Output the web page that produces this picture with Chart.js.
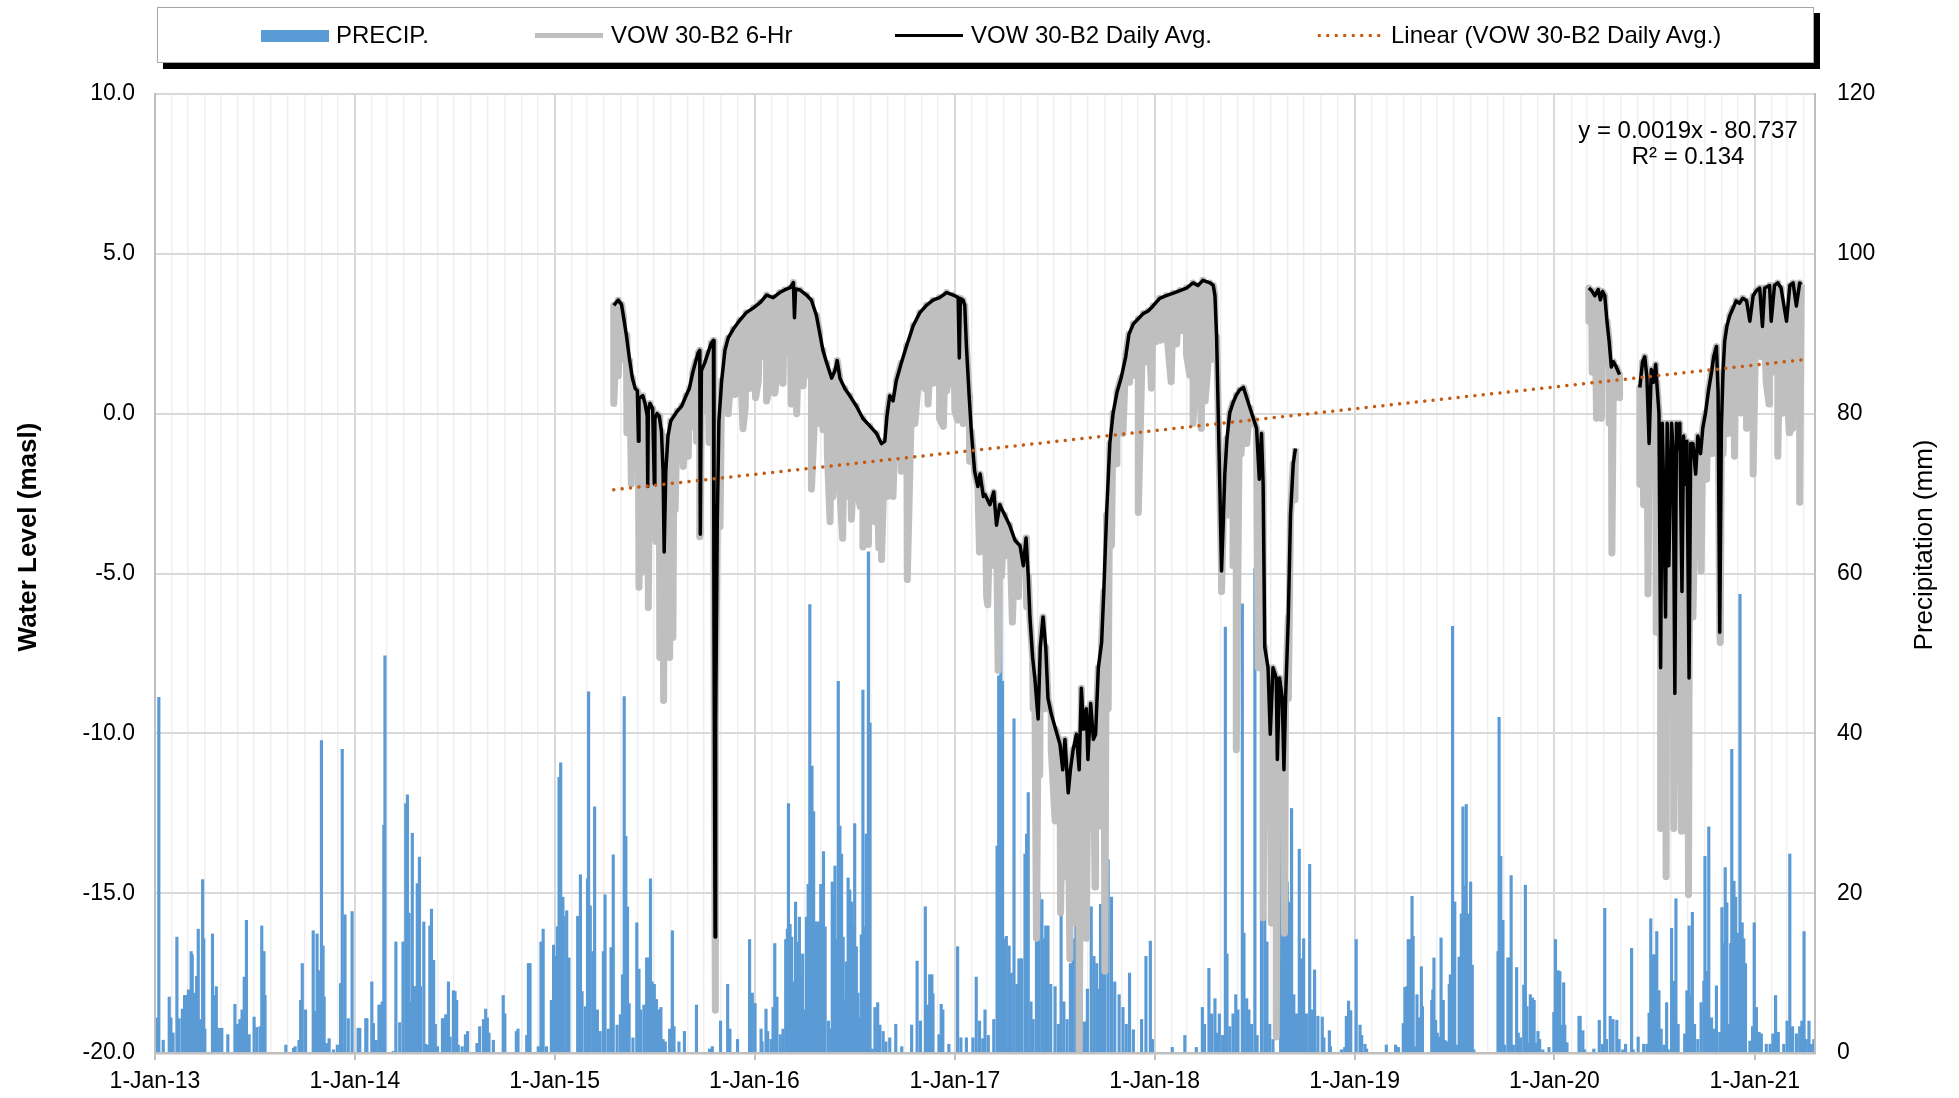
<!DOCTYPE html>
<html><head><meta charset="utf-8">
<script src="https://cdn.jsdelivr.net/npm/chart.js@4.4.1/dist/chart.umd.min.js"></script>
<style>
html,body{margin:0;padding:0;background:#fff;overflow:hidden}
#wrap{position:relative;width:1959px;height:1098px;font-family:'Liberation Sans',Arial,sans-serif}
canvas{position:absolute;left:0;top:0}
#lgbox{position:absolute;left:157px;top:7px;width:1655px;height:54px;border:1.5px solid #a6a6a6;background:#fff;box-shadow:6px 6px 0 #000}
.lt{position:absolute;top:23px;font-size:24px;line-height:24px;white-space:nowrap;color:#000}
.sw{position:absolute}
</style></head>
<body><div id="wrap">
<canvas id="c" width="1959" height="1098"></canvas>
<div id="lgbox"></div>
<div class="sw" style="left:261px;top:30px;width:68px;height:12px;background:#5b9bd5"></div>
<div class="lt" style="left:336px">PRECIP.</div>
<div class="sw" style="left:535px;top:33px;width:68px;height:5px;background:#bfbfbf"></div>
<div class="lt" style="left:611px">VOW 30-B2 6-Hr</div>
<div class="sw" style="left:895px;top:34px;width:68px;height:3px;background:#000"></div>
<div class="lt" style="left:971px">VOW 30-B2 Daily Avg.</div>
<div class="sw" style="left:1315px;top:33px;width:68px;height:5px;background:radial-gradient(circle,#c55a11 1.5px,transparent 2px) 0 0/8.5px 5px repeat-x"></div>
<div class="lt" style="left:1391px">Linear (VOW 30-B2 Daily Avg.)</div>
</div>
<script>
// x values: days since 1-Jan-2013
const yearTickLabels = ['1-Jan-13','1-Jan-14','1-Jan-15','1-Jan-16','1-Jan-17','1-Jan-18','1-Jan-19','1-Jan-20','1-Jan-21'];
const xMaxDay = 3032;

// PRECIP. (mm) [day, mm]
const precip = [
[3,4.4],[7,44.5],[15,1.6],[26,7.0],[29,4.4],[33,2.5],[40,14.5],[44,4.3],[50,5.5],[54,7.2],[56,7.2],[61,7.9],[66,12.7],[68,12.3],[72,7.5],[76,9.6],[79,15.5],[83,4.2],[87,21.7],[89,14.3],[91,3.0],[105,14.9],[108,7.2],[112,8.3],[117,3.1],[122,3.1],[133,2.3],[146,6.1],[151,3.6],[155,4.2],[159,5.4],[163,9.5],[167,16.6],[172,2.3],[181,4.5],[186,3.2],[192,3.3],[195,15.9],[199,12.7],[201,7.2],[239,1.0],[253,0.6],[256,0.8],[263,1.6],[266,6.6],[269,11.2],[275,5.4],[289,15.3],[293,5.2],[296,14.9],[300,10.3],[304,39.1],[307,13.4],[309,7.0],[313,1.2],[318,1.8],[326,0.4],[333,1.0],[339,8.7],[342,38.0],[347,17.3],[353,4.3],[360,17.7],
[371,3.1],[374,3.1],[385,4.3],[387,4.3],[396,8.9],[399,3.7],[404,1.6],[409,6.0],[412,6.0],[415,6.4],[418,28.5],[420,49.7],[435,0.2],[440,13.9],[447,3.8],[453,13.9],[458,31.2],[461,32.3],[464,17.5],[466,6.4],[470,27.5],[473,8.3],[476,8.3],[479,21.2],[483,24.5],[485,8.3],[491,16.4],[494,1.1],[498,1.0],[502,15.9],[505,18.0],[509,11.6],[512,3.6],[516,0.8],[525,4.3],[528,4.3],[531,4.8],[536,8.9],[539,2.0],[545,7.8],[548,7.7],[551,6.6],[554,1.0],[561,0.8],[567,2.3],[571,2.7],[588,1.2],[593,3.3],[600,4.2],[604,5.5],[607,4.4],[610,2.5],[618,1.6],[636,7.2],[639,4.9],[660,2.7],[663,3.0],[679,2.2],[682,11.2],[685,11.2],[700,0.8],[705,13.9],[709,15.5],[715,0.8],[724,6.6],[728,13.5],[732,12.1],[735,15.8],[738,34.5],[741,36.3],[745,19.5],[747,17.1],[752,17.8],[756,11.9],[772,17.1],[777,22.3],[780,7.7],[786,5.8],[790,21.8],[792,45.2],[795,18.4],[800,12.7],[803,30.8],[808,5.4],[813,2.7],[819,12.7],[822,19.8],[828,3.0],[833,13.2],[837,24.8],
[844,3.5],[850,4.8],[854,9.8],[857,44.6],[860,27.1],[863,18.3],[866,6.2],[873,1.9],[880,16.3],[884,10.5],[887,5.4],[893,6.0],[898,11.9],[901,11.9],[905,21.8],[908,8.9],[912,8.6],[916,6.7],[921,5.4],[924,5.7],[928,1.7],[932,1.4],[940,3.0],[945,15.3],[948,3.3],[957,1.4],[967,2.7],[989,6.0],[1013,0.5],[1018,0.8],[1033,4.0],[1046,8.6],[1050,3.0],[1064,1.7],[1086,14.2],[1091,7.5],[1096,6.2],[1107,3.0],[1109,1.4],[1116,5.5],[1119,2.7],[1125,1.7],[1129,5.7],[1132,13.7],[1136,7.0],[1142,2.3],[1147,3.0],[1152,14.2],[1155,15.5],[1157,31.2],[1160,16.1],[1163,14.5],[1166,8.6],[1168,8.9],[1170,18.9],[1173,13.9],[1177,17.0],[1180,9.8],[1183,12.4],[1186,5.4],[1190,17.0],[1193,21.1],[1196,56.1],[1200,35.9],[1203,30.2],[1205,16.4],[1208,16.4],[1212,16.4],[1216,21.1],[1219,19.6],[1221,25.2],[1224,15.8],[1230,4.0],[1233,3.0],[1237,21.4],[1239,19.3],[1242,23.4],[1245,14.2],[1248,46.5],[1251,28.4],[1254,24.9],[1257,14.5],[1260,6.7],[1263,11.4],[1266,21.9],[1269,20.4],[1272,18.9],[1275,16.1],[1278,28.7],[1281,13.3],[1284,7.5],[1287,4.4],[1290,14.8],[1293,45.4],[1296,15.8],[1299,27.4],[1303,62.7],[1306,41.3],[1310,0.5],[1315,5.7],[1320,6.3],[1324,3.5],[1330,2.7],[1335,1.4],[1342,1.9],[1353,3.6],[1364,0.8],[1382,3.5],[1392,11.5],[1398,4.0],[1407,18.3],[1411,6.0],[1415,9.8],[1419,9.8],[1421,7.4],[1432,2.3],[1436,6.1],[1439,5.4],[1450,1.1],[1466,13.3],[1472,1.9],[1482,1.9],[1494,1.9],[1500,9.5],[1506,4.0],[1512,1.8],
[1516,5.4],[1522,2.2],[1532,4.2],[1538,25.9],[1541,47.2],[1545,59.7],[1548,46.5],[1551,14.3],[1555,14.6],[1560,13.4],[1564,10.0],[1569,41.8],[1574,8.6],[1578,11.8],[1583,11.8],[1589,24.9],[1592,27.4],[1595,32.6],[1600,6.4],[1604,4.2],[1610,14.0],[1615,20.1],[1620,19.2],[1624,14.3],[1627,15.9],[1631,15.9],[1636,8.6],[1644,8.3],[1650,3.6],[1655,18.0],[1660,6.4],[1666,4.2],[1672,11.2],[1677,14.3],[1682,27.8],[1686,31.3],[1692,11.2],[1698,3.9],[1703,8.0],[1710,18.3],[1715,12.1],[1720,11.2],[1724,8.0],[1727,18.6],[1731,11.5],[1735,10.0],[1741,24.2],[1747,19.5],[1753,8.9],[1761,7.3],[1768,5.7],[1774,3.6],[1780,10.0],[1787,2.9],[1802,4.2],[1810,12.1],[1818,14.0],[1822,1.7],[1858,0.7],[1881,2.2],[1902,0.7],[1913,5.7],[1917,3.6],[1925,10.6],[1930,4.9],[1936,6.8],[1940,2.5],[1944,4.9],[1950,2.2],[1955,53.3],[1958,12.4],[1963,3.3],[1969,4.9],[1974,7.3],[1978,5.4],[1986,56.2],[1989,15.0],[1994,6.8],[1998,5.4],[2003,3.6],[2009,60.6],[2013,2.2],[2021,17.0],[2027,17.7],[2031,13.9],[2036,3.6],[2042,1.7],[2056,32.3],[2059,15.0],[2063,23.3],[2068,21.4],[2071,18.9],[2076,30.6],[2080,7.3],[2085,4.9],[2090,25.5],[2094,11.8],[2098,14.3],[2103,4.9],[2109,23.6],[2114,5.4],
[2118,10.4],[2124,4.6],[2132,4.5],[2135,1.9],[2145,2.8],[2147,0.8],[2167,0.4],[2173,0.7],[2176,4.6],[2180,6.5],[2184,5.3],[2194,14.2],[2201,3.5],[2204,2.2],[2210,1.1],[2213,0.5],[2249,1.0],[2266,1.0],[2271,0.7],[2280,3.7],[2283,8.2],[2286,8.3],[2289,14.2],[2292,14.2],[2296,19.6],[2298,14.6],[2301,0.8],[2305,7.3],[2308,4.4],[2313,10.8],[2315,5.8],[2332,6.6],[2334,7.9],[2336,11.9],[2339,4.1],[2342,2.5],[2345,2.0],[2349,14.4],[2353,6.6],[2356,1.6],[2360,1.4],[2364,8.6],[2366,9.8],[2370,53.4],[2374,18.9],[2377,1.0],[2382,12.0],[2386,17.4],[2389,30.8],[2392,20.9],[2395,31.1],[2399,17.4],[2403,21.4],[2406,11.0],[2409,0.4],[2453,12.7],[2455,42.0],[2458,24.6],[2462,16.6],[2465,1.0],[2471,11.9],[2474,11.9],[2477,22.2],[2481,1.0],[2487,10.7],[2490,2.5],[2494,1.9],[2500,8.5],[2503,21.0],[2506,5.8],[2510,1.2],[2512,7.3],[2516,6.9],[2519,6.6],[2522,1.2],[2526,2.7],[2529,1.7],[2535,0.4],[2546,0.7],[2555,5.1],[2558,14.2],[2563,10.3],[2566,10.2],[2569,3.5],[2573,8.8],[2575,3.5],[2579,1.3],[2601,4.6],[2603,4.6],[2608,2.8],[2611,0.4],[2628,0.5],[2638,4.1],
[2644,1.1],[2648,18.1],[2651,1.7],[2658,4.6],[2663,4.2],[2670,4.1],[2674,1.7],[2681,0.4],[2686,1.1],[2697,13.1],[2700,0.4],[2709,2.0],[2719,1.1],[2725,1.1],[2729,5.0],[2732,16.8],[2736,12.3],[2740,12.3],[2743,15.2],[2747,7.8],[2751,3.0],[2756,1.0],[2761,6.3],[2764,0.4],[2770,15.6],[2774,9.0],[2778,19.3],[2782,3.6],[2794,2.4],[2798,7.8],[2802,15.9],[2805,7.2],[2808,17.6],[2812,3.6],[2818,1.7],[2824,6.3],[2829,9.0],[2831,24.6],[2835,10.2],[2838,28.3],[2843,4.4],[2847,3.0],[2852,8.4],[2858,2.6],[2862,18.2],[2865,13.7],[2868,23.2],[2871,18.8],[2875,3.6],[2878,13.7],[2880,38.0],[2884,21.5],[2887,19.5],[2891,15.0],[2895,57.4],[2899,16.3],[2902,14.3],[2905,11.2],[2913,1.5],[2918,3.3],[2921,16.3],[2925,5.7],[2930,2.6],[2934,2.4],[2943,1.1],[2950,1.1],[2955,2.4],[2960,7.2],[2965,2.6],[2975,1.1],[2981,4.0],[2986,24.9],[2991,3.3],[2998,2.4],[3004,3.3],[3008,4.0],[3012,15.2],[3016,1.7],[3021,4.0],[3025,1.1],[3030,1.7]
];

// VOW 30-B2 Daily Avg. (masl) [day, level]; null = no record
const dailyAvg = [
[838,3.39],[846,3.55],[852,3.42],[856,3.0],[861,2.45],[867,1.66],[872,1.11],[877,0.79],[881,0.72],[883,-0.86],[884,0.48],[891,0.56],[895,0.32],[899,-0.07],[900,-2.28],[901,0.1],[904,0.32],[909,0.16],[912,-2.2],[913,-0.15],[917,0.0],[921,-0.07],[925,-0.55],[928,-1.80],[930,-4.33],[933,-1.8],[937,-0.70],[942,-0.23],[948,-0.07],[954,0.08],[962,0.24],[970,0.56],[976,0.79],[982,1.27],[988,1.66],[992,1.90],[995,1.98],[996,-3.77],[998,1.35],[1004,1.58],[1010,1.90],[1016,2.21],[1020,2.29],[1021,-6.53],[1023,-16.37],[1024,-9.68],[1027,-3.38],[1030,-0.23],[1035,1.03],[1041,1.98],[1047,2.37],[1056,2.64],[1068,2.92],[1080,3.16],[1093,3.31],[1105,3.47],[1117,3.71],[1129,3.63],[1141,3.79],[1150,3.87],[1160,3.94],[1166,4.10],[1168,3.0],[1170,3.9],[1178,3.87],[1190,3.71],[1199,3.55],[1208,3.08],[1214,2.53],[1220,1.98],[1227,1.58],[1236,1.11],[1242,1.35],[1246,1.66],[1251,1.11],[1260,0.79],[1269,0.56],[1281,0.24],[1293,-0.15],[1306,-0.39],[1318,-0.62],[1327,-0.94],[1333,-0.86],[1337,-0.07],[1342,0.56],[1348,0.40],[1354,1.03],[1363,1.58],[1373,2.13],[1385,2.76],[1397,3.16],[1409,3.39],[1421,3.55],[1433,3.63],[1446,3.79],[1458,3.71],[1467,3.63],[1469,1.74],[1471,3.6],[1476,3.55],[1479,3.39],[1482,2.13],[1487,0.56],[1491,-0.55],[1497,-1.80],[1503,-2.28],[1507,-1.89],[1513,-2.59],[1516,-2.53],[1525,-2.85],[1532,-2.45],[1537,-3.49],[1543,-2.85],[1552,-3.17],[1561,-3.49],[1571,-3.97],[1580,-4.13],[1586,-4.76],[1591,-3.89],[1595,-5.08],[1598,-6.36],[1603,-7.63],[1607,-8.27],[1613,-9.55],[1617,-7.31],[1622,-6.36],[1627,-7.31],[1631,-8.91],[1637,-9.39],[1645,-9.87],[1653,-10.35],[1658,-11.14],[1662,-10.19],[1668,-11.86],[1672,-11.14],[1677,-10.51],[1683,-10.03],[1688,-11.14],[1692,-8.59],[1696,-9.87],[1701,-9.23],[1704,-10.82],[1709,-9.07],[1714,-10.19],[1718,-10.03],[1723,-7.95],[1729,-7.16],[1733,-5.56],[1738,-3.17],[1744,-0.93],[1750,0.02],[1757,0.66],[1765,1.14],[1773,1.78],[1779,2.49],[1787,2.81],[1796,2.97],[1805,3.13],[1814,3.21],[1823,3.37],[1835,3.61],[1847,3.69],[1860,3.77],[1872,3.85],[1884,3.93],[1896,4.09],[1905,4.01],[1914,4.17],[1927,4.09],[1933,4.01],[1936,3.69],[1939,2.42],[1942,0.02],[1945,-2.37],[1948,-4.92],[1951,-3.49],[1954,-1.89],[1958,-0.78],[1963,0.02],[1969,0.34],[1975,0.58],[1981,0.74],[1988,0.82],[1994,0.50],[2000,0.18],[2006,-0.14],[2012,-0.46],[2017,-2.05],[2021,-0.62],[2024,-2.21],[2027,-7.31],[2033,-7.95],[2037,-10.03],[2042,-7.95],[2048,-8.27],[2050,-10.82],[2054,-8.27],[2059,-8.91],[2062,-11.14],[2065,-8.91],[2070,-6.36],[2074,-3.17],[2079,-1.57],[2083,-1.09],
[2090,null],
[2619,3.93],[2624,3.85],[2630,3.69],[2636,3.88],[2640,3.56],[2644,3.82],[2648,3.69],[2652,2.89],[2656,2.26],[2660,1.46],[2664,1.62],[2669,1.46],[2675,1.22],
[2690,null],
[2712,0.82],[2717,1.62],[2721,1.78],[2725,1.14],[2729,-0.93],[2733,1.38],[2737,0.98],[2741,1.54],[2743,0.98],[2747,0.02],[2750,-7.95],[2753,-0.30],[2756,-2.69],[2759,-6.36],[2762,-0.30],[2765,-4.76],[2770,-0.30],[2773,-1.25],[2776,-8.75],[2779,-0.30],[2782,-1.09],[2785,-0.30],[2789,-5.56],[2792,-0.70],[2795,-2.21],[2798,-0.86],[2802,-8.27],[2805,-0.93],[2809,-0.93],[2814,-1.89],[2818,-0.70],[2823,-1.25],[2827,-0.46],[2832,0.02],[2837,0.66],[2843,1.30],[2847,1.78],[2852,2.10],[2855,0.66],[2858,-6.84],[2861,-0.46],[2864,1.30],[2867,2.26],[2871,2.73],[2876,3.05],[2882,3.29],[2888,3.53],[2894,3.45],[2900,3.61],[2907,3.53],[2913,2.89],[2919,3.69],[2925,3.85],[2931,3.93],[2936,2.73],[2940,3.93],[2949,4.01],[2952,2.89],[2958,4.01],[2964,4.09],[2970,3.93],[2980,2.89],[2986,4.01],[2992,4.09],[2998,3.37],[3004,4.09],[3007,4.04]
];

// VOW 30-B2 6-Hr readings below the daily average (drawdown spikes) [day, level]
const sixHrLows = [
[838,0.32],[846,1.19],[856,1.7],[862,-0.6],[870,-2.2],[876,-1.4],[884,-5.43],[891,-4.95],[895,-3.0],[901,-6.06],[908,-2.6],[915,-4.0],[922,-7.63],[929,-8.97],[935,-5.2],[940,-7.63],[946,-7.0],[950,-3.0],[956,-1.33],[960,-0.6],[965,-1.65],[974,-1.33],[980,-0.4],[989,-0.86],[995,-3.85],[1000,0.6],[1007,0.08],[1012,-0.9],[1016,0.87],[1023,-18.66],[1032,-3.54],[1040,0.9],[1047,0.0],[1052,1.2],[1056,0.95],[1060,0.6],[1065,1.58],[1070,1.4],[1074,-0.47],[1078,0.2],[1086,0.79],[1090,1.6],[1097,0.5],[1102,1.03],[1110,1.8],[1117,0.40],[1124,0.9],[1132,0.64],[1138,1.5],[1147,0.95],[1155,1.9],[1162,0.3],[1172,0.0],[1178,1.4],[1184,0.87],[1190,1.2],[1199,-2.36],[1206,0.4],[1214,-0.31],[1220,-0.5],[1228,-1.2],[1233,-3.38],[1238,-2.6],[1242,-1.96],[1251,-2.44],[1256,-3.9],[1262,-2.59],[1268,-1.8],[1272,-3.30],[1281,-2.28],[1288,-2.9],[1293,-4.17],[1298,-3.6],[1303,-4.09],[1310,-2.2],[1315,-3.38],[1322,-4.2],[1327,-4.56],[1336,-2.59],[1348,-2.59],[1363,-1.80],[1374,-5.19],[1388,-0.31],[1395,1.2],[1406,0.79],[1412,0.3],[1421,0.95],[1426,1.5],[1433,-0.15],[1440,-0.4],[1446,0.72],[1452,1.4],[1461,0.08],[1466,-0.2],[1472,0.9],[1476,-0.31],[1488,-1.49],[1506,-4.33],[1519,-5.72],[1521,-5.98],[1534,-4.76],[1540,-8.03],[1546,-5.08],[1555,-4.44],[1566,-6.52],[1577,-5.72],[1592,-6.04],[1604,-9.23],[1610,-16.41],[1616,-11.30],[1625,-9.23],[1637,-10.51],[1644,-12.74],[1654,-15.61],[1664,-14.49],[1671,-17.05],[1680,-15.93],[1688,-19.9],[1695,-12.74],[1701,-16.41],[1710,-12.90],[1717,-14.81],[1726,-12.90],[1735,-17.44],[1741,-9.23],[1747,-4.12],[1756,-1.57],[1768,-0.62],[1780,0.98],[1790,1.2],[1796,-3.09],[1803,1.9],[1811,1.62],[1820,0.8],[1829,2.26],[1838,2.3],[1847,2.73],[1856,1.0],[1866,2.18],[1875,2.6],[1884,1.86],[1890,1.2],[1896,-0.30],[1902,1.94],[1911,-0.46],[1918,0.4],[1923,1.46],[1930,1.7],[1936,2.26],[1948,-5.56],[1960,-3.17],[1969,-4.76],[1975,-10.51],[1984,-1.25],[1994,-0.93],[2003,-0.30],[2015,-7.95],[2024,-15.77],[2031,-12.74],[2039,-15.93],[2048,-19.5],[2057,-11.78],[2063,-16.25],[2070,-8.91],[2082,-2.69],
[2619,2.89],[2625,1.30],[2633,-0.14],[2642,-0.14],[2651,1.62],[2656,-0.30],[2661,-4.36],[2666,0.50],[2675,0.50],
[2712,-2.21],[2719,-2.85],[2727,-5.64],[2733,-1.89],[2742,-6.84],[2750,-12.98],[2754,-11.14],[2760,-14.49],[2767,-8.75],[2774,-12.98],[2780,-9.55],[2788,-13.06],[2796,-10.35],[2801,-15.05],[2809,-6.36],[2816,-3.17],[2824,-4.92],[2834,-2.05],[2844,-1.25],[2852,0.50],[2859,-7.16],[2864,-1.25],[2873,-0.62],[2885,-1.33],[2890,1.5],[2897,0.02],[2903,2.2],[2907,-0.46],[2914,0.6],[2919,-1.89],[2926,1.9],[2934,1.78],[2940,2.4],[2943,0.98],[2948,0.3],[2954,1.30],[2960,2.0],[2964,-1.33],[2973,0.02],[2980,1.2],[2985,-0.6],[2991,-0.46],[2995,1.5],[2998,0.98],[3004,-2.77]
];

// Linear (VOW 30-B2 Daily Avg.) end points
const trendLine = [[838,-2.38],[3007,1.68]];
const trendEquation = ['y = 0.0019x - 80.737', 'R\u00b2 = 0.134'];
const leftTitle = 'Water Level (masl)';
const rightTitle = 'Precipitation (mm)';

// ---- build ----
const xy = a => a.map(p => ({x:p[0], y:p[1]}));
const sixHr = dailyAvg.concat(sixHrLows).sort((a,b)=>a[0]-b[0]);
const monthTicks = []; const yearLabelAt = {};
const base = Date.UTC(2013,0,1);
for (let y=2013; y<=2021; y++) for (let m=0; m<12; m++) {
  const d = Math.round((Date.UTC(y,m,1)-base)/86400000);
  if (d <= xMaxDay) { monthTicks.push(d); if (m===0) yearLabelAt[d] = yearTickLabels[y-2013]; }
}
const isYear = v => yearLabelAt[v] !== undefined;
const FONT = "'Liberation Sans', Arial, sans-serif";
Chart.defaults.font.family = FONT;

const annot = {
  id:'annot',
  afterDraw(chart){
    const c = chart.ctx; c.save(); c.fillStyle = '#000'; c.textAlign='center'; c.textBaseline='middle';
    c.save(); c.font = 'bold 26px ' + FONT; c.translate(29,537); c.rotate(-Math.PI/2); c.fillText(leftTitle,0,0); c.restore();
    c.save(); c.font = '26px ' + FONT; c.translate(1925,545); c.rotate(-Math.PI/2); c.fillText(rightTitle,0,0); c.restore();
    c.font = '24px ' + FONT; c.textBaseline='alphabetic';
    c.fillText(trendEquation[0], 1688, 138); c.fillText(trendEquation[1], 1688, 164);
    c.restore();
  }
};

new Chart(document.getElementById('c'), {
  data: { datasets: [
    { type:'bar', label:'PRECIP.', data: xy(precip), yAxisID:'y2', backgroundColor:'#5b9bd5', borderWidth:0, barThickness:2.5, order:4 },
    { type:'line', label:'VOW 30-B2 6-Hr', data: xy(sixHr), yAxisID:'y', borderColor:'#bfbfbf', borderWidth:7, pointRadius:0, tension:0, spanGaps:false, borderJoinStyle:'round', order:3 },
    { type:'line', label:'VOW 30-B2 Daily Avg.', data: xy(dailyAvg), yAxisID:'y', borderColor:'#000', borderWidth:3.5, pointRadius:0, tension:0, spanGaps:false, borderJoinStyle:'round', order:2 },
    { type:'line', label:'Linear (VOW 30-B2 Daily Avg.)', data: xy(trendLine), yAxisID:'y', borderColor:'#c55a11', borderWidth:3.5, borderDash:[0.01,8.4], borderCapStyle:'round', pointRadius:0, order:1 }
  ]},
  options: {
    responsive:false, animation:false, events:[],
    layout:{ padding:{ top:94, left:0, right:0, bottom:0 } },
    plugins:{ legend:{display:false}, tooltip:{enabled:false} },
    scales: {
      x: { type:'linear', min:0, max:xMaxDay, offset:false,
        afterBuildTicks: s => { s.ticks = monthTicks.map(v=>({value:v})); },
        afterFit: s => { s.height = 45; },
        ticks:{ autoSkip:false, maxRotation:0, minRotation:0, padding:8, color:'#000', font:{size:23},
          callback: v => yearLabelAt[v] || '' },
        grid:{ offset:false, color: ctx => (ctx.tick && isYear(ctx.tick.value)) ? '#d9d9d9' : '#efefef',
               lineWidth: ctx => (ctx.tick && isYear(ctx.tick.value)) ? 2 : 1.5,
               tickColor: ctx => (ctx.tick && isYear(ctx.tick.value)) ? '#bfbfbf' : 'rgba(0,0,0,0)',
               tickLength:7, tickWidth:2 },
        border:{ color:'#bfbfbf', width:2.5, z:1 }
      },
      y: { position:'left', min:-20, max:10,
        afterFit: s => { s.width = 155; },
        ticks:{ stepSize:5, padding:20, color:'#000', font:{size:23}, callback: v => v.toFixed(1) },
        grid:{ color:'#d9d9d9', lineWidth:2, drawTicks:false },
        border:{ color:'#bfbfbf', width:2, z:1 }
      },
      y2: { position:'right', min:0, max:120,
        afterFit: s => { s.width = 144; },
        ticks:{ stepSize:20, padding:22, color:'#000', font:{size:23} },
        grid:{ drawOnChartArea:false, drawTicks:false },
        border:{ color:'#bfbfbf', width:2, z:1 }
      }
    }
  },
  plugins:[annot]
});
</script>
</body></html>
